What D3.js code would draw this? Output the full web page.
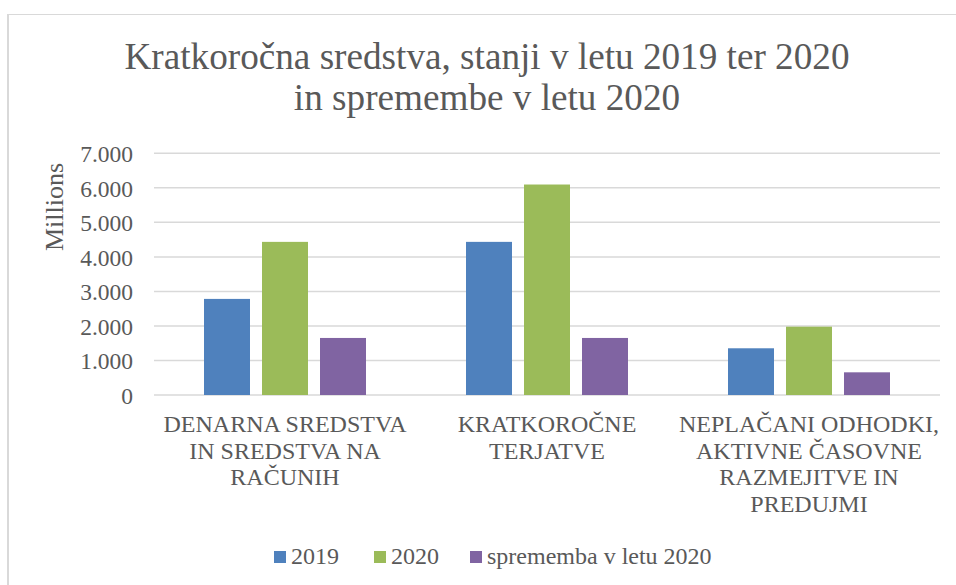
<!DOCTYPE html>
<html lang="en">
<head>
  <meta charset="UTF-8">
  <title>Kratkoročna sredstva</title>
  <script src="https://d3js.org/d3.v7.min.js"></script>
  <style>
    body { margin: 0; background: #fff; }
  </style>
</head>
<body>
  <svg width="956" height="585"></svg>

  <script>
    // Chart data
    const categories = ["denarna", "terjatve", "neplacani"];
    const categoryLines = [
      ["DENARNA SREDSTVA", "IN SREDSTVA NA", "RAČUNIH"],
      ["KRATKOROČNE", "TERJATVE"],
      ["NEPLAČANI ODHODKI,", "AKTIVNE ČASOVNE", "RAZMEJITVE IN", "PREDUJMI"]
    ];
    const seriesNames = ["2019", "2020", "sprememba v letu 2020"];
    const seriesColors = ["#4f81bd", "#9bbb59", "#8064a2"];
    const values2019 = [2783, 4435, 1353];
    const values2020 = [4435, 6096, 1979];
    const valuesChange = [1652, 1652, 657];
    const yTicks = [0, 1000, 2000, 3000, 4000, 5000, 6000, 7000];

    const FONT = '"Liberation Serif"';
    const TEXT_COLOR = "#595959";

    const svg = d3.select("svg");

    // Chart area border (left and top edges visible)
    svg.append("line").attr("x1", 8).attr("x2", 8).attr("y1", 14).attr("y2", 585)
      .attr("stroke", "#d9d9d9").attr("stroke-width", 2);
    svg.append("line").attr("x1", 7).attr("x2", 956).attr("y1", 14.5).attr("y2", 14.5)
      .attr("stroke", "#d9d9d9").attr("stroke-width", 1);

    // Title, one text per line
    const titleLines = ["Kratkoročna sredstva, stanji v letu 2019 ter 2020", "in spremembe v letu 2020"];
    svg.append("g").selectAll("text").data(titleLines).join("text")
      .attr("x", 487).attr("y", (d, i) => 69 + i * 41)
      .attr("text-anchor", "middle")
      .style("font-family", FONT).style("fill", TEXT_COLOR)
      .style("font-size", "37.2px")
      .text(d => d);

    // Scales
    const plot = { left: 154, right: 940, top: 153.3, bottom: 395 };
    const x0 = d3.scaleBand().domain(categories).range([plot.left, plot.right]);
    const groupWidth = 162;
    const x1 = d3.scaleBand().domain(seriesNames).range([0, groupWidth]).paddingInner(0.207);
    const y = d3.scaleLinear().domain([0, 7000]).range([plot.bottom, plot.top]);

    // Gridlines
    svg.append("g")
      .selectAll("line").data(yTicks).join("line")
      .attr("x1", plot.left).attr("x2", plot.right)
      .attr("y1", d => y(d)).attr("y2", d => y(d))
      .attr("stroke", "#d9d9d9").attr("stroke-width", 1.5);

    // Y axis labels
    const fmt = d => d === 0 ? "0" : d3.format(",")(d).replace(/,/g, ".");
    const yAxis = svg.append("g")
      .attr("transform", `translate(${plot.left - 21},0)`)
      .call(d3.axisLeft(y).tickValues(yTicks).tickFormat(fmt).tickSize(0).tickPadding(0));
    yAxis.attr("font-family", null).attr("font-size", null);
    yAxis.select(".domain").remove();
    yAxis.selectAll("text")
      .attr("dy", "0.35em")
      .style("font-size", "23.5px")
      .style("fill", TEXT_COLOR)
      .style("font-family", FONT);

    svg.append("text")
      .attr("transform", "translate(63,207) rotate(-90)")
      .attr("text-anchor", "middle")
      .style("font-family", FONT).style("fill", TEXT_COLOR)
      .style("font-size", "26px")
      .text("Millions");

    // Bars
    const seriesData = [values2019, values2020, valuesChange];
    const groups = svg.append("g").selectAll("g").data(categories).join("g")
      .attr("transform", d => `translate(${x0(d) + (x0.bandwidth() - groupWidth) / 2},0)`);
    groups.selectAll("rect")
      .data((c, ci) => seriesNames.map((s, si) => ({ s, si, v: seriesData[si][ci] })))
      .join("rect")
      .attr("x", d => x1(d.s))
      .attr("width", x1.bandwidth())
      .attr("y", d => y(d.v))
      .attr("height", d => y(0) - y(d.v))
      .attr("fill", d => seriesColors[d.si]);

    // Category labels, one text per line
    const labelRows = categories.flatMap((c, i) =>
      categoryLines[i].map((line, li) => ({ c, line, li })));
    svg.append("g").selectAll("text").data(labelRows).join("text")
      .attr("x", d => x0(d.c) + x0.bandwidth() / 2)
      .attr("y", d => 432 + d.li * 26.7)
      .attr("text-anchor", "middle")
      .style("font-family", FONT).style("fill", TEXT_COLOR)
      .style("font-size", "24px")
      .text(d => d.line);

    // Legend
    const legendX = [274, 374, 470];
    const legend = svg.append("g").selectAll("g").data(seriesNames).join("g")
      .attr("transform", (d, i) => `translate(${legendX[i]},551)`);
    legend.append("rect")
      .attr("width", 12).attr("height", 12)
      .attr("fill", (d, i) => seriesColors[i]);
    legend.append("text")
      .attr("x", 17).attr("y", 13)
      .style("font-family", FONT).style("fill", TEXT_COLOR)
      .style("font-size", "24px")
      .text(d => d);
  </script>
</body>
</html>
